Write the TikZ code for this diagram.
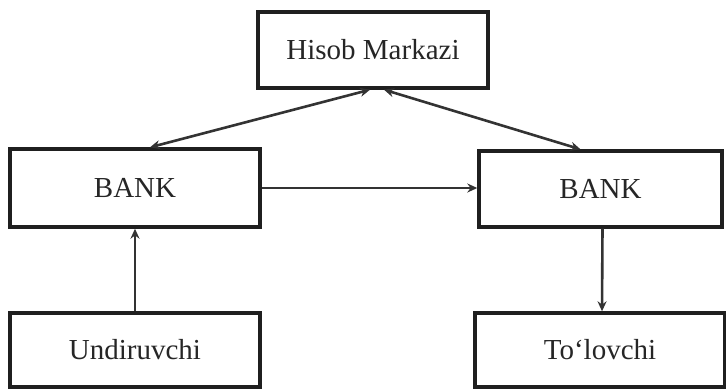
\documentclass[tikz,border=0pt]{standalone}
\usepackage{fontspec}
\setmainfont{Liberation Serif}
\usetikzlibrary{arrows.meta,calc}
\begin{document}
\begin{tikzpicture}[x=1pt,y=-1pt,
  box/.style={draw=black!88,line width=3.4pt,rectangle,inner sep=0pt,
    font=\fontsize{29}{32}\selectfont,text=black!85},
  conn/.style={draw=black!80,line width=2.6pt,-{Stealth[length=10pt,width=9pt]}},
  biconn/.style={draw=black!80,line width=2.6pt,{Stealth[length=10pt,width=9pt]}-{Stealth[length=10pt,width=9pt]}}]
\useasboundingbox (0,0) rectangle (726,389);
\node[box,minimum width=230pt,minimum height=76pt] (hm) at (373,50) {Hisob Markazi};
\node[box,minimum width=250pt,minimum height=78pt] (bl) at (135,188) {BANK};
\node[box,minimum width=243pt,minimum height=76pt] (br) at (600.5,189) {BANK};
\node[box,minimum width=250pt,minimum height=74pt] (un) at (135,350) {Undiruvchi};
\node[box,minimum width=250pt,minimum height=74pt] (tl) at (600,350) {To‘lovchi};
\draw[biconn] ($(bl.north)+(15,0)$) -- ($(hm.south)+(-3,0)$);
\draw[biconn] ($(hm.south)+(11,0)$) -- ($(br.north)+(-20,0)$);
\draw[conn] (bl.east) -- (bl.east -| br.west);
\draw[conn] (un.north) -- (bl.south);
\draw[conn] ($(br.south)+(2,0)$) -- ($(tl.north)+(2,0)$);
\end{tikzpicture}
\end{document}
